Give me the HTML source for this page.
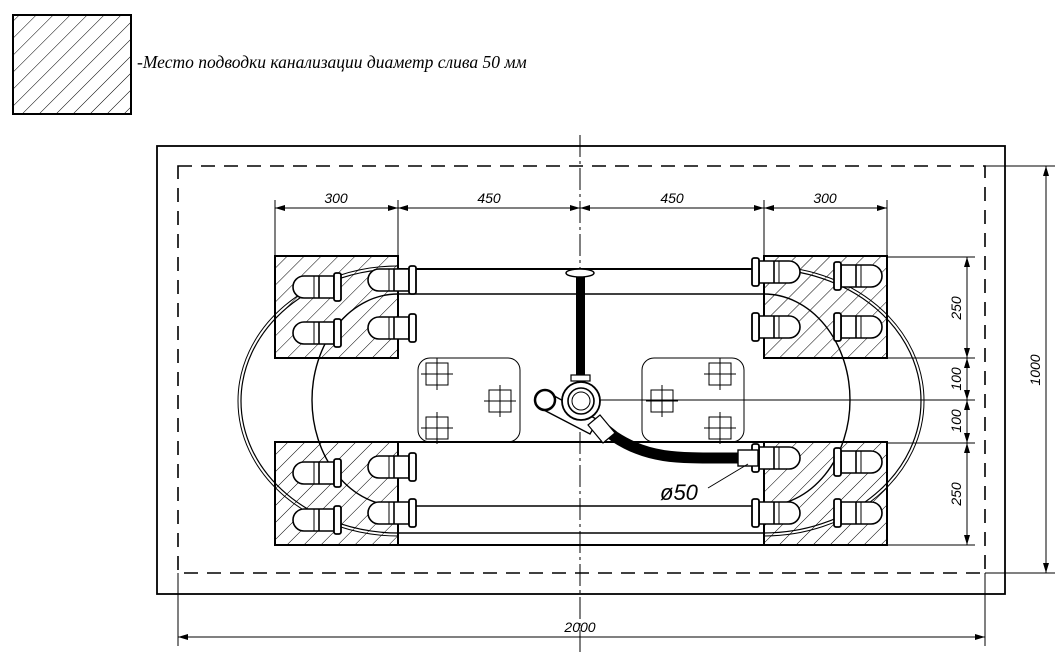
<!DOCTYPE html>
<html><head><meta charset="utf-8"><style>
html,body{margin:0;padding:0;background:#fff;}
svg{display:block;}
text{font-family:"Liberation Sans",sans-serif;font-style:italic;fill:#000;}
</style></head><body>
<svg width="1060" height="656" viewBox="0 0 1060 656" xmlns="http://www.w3.org/2000/svg">
<defs>
<pattern id="h" patternUnits="userSpaceOnUse" width="12" height="12" patternTransform="rotate(45)">
<line x1="0" y1="0" x2="0" y2="12" stroke="#000" stroke-width="1"/>
</pattern>
<marker id="a" viewBox="0 0 10 6" refX="10" refY="3" markerWidth="10" markerHeight="6" orient="auto-start-reverse" markerUnits="userSpaceOnUse">
<path d="M0,0 L10,3 L0,6 Z" fill="#000"/>
</marker>
<g id="pin" fill="#fff" stroke="#000">
<path d="M0,-11 A11,11 0 0 0 0,11 H30 V-11 Z" stroke-width="1.6"/>
<line x1="10" y1="-11" x2="10" y2="11"/>
<line x1="15" y1="-11" x2="15" y2="11" stroke-width="1.6"/>
<rect x="30" y="-14" width="7" height="28" rx="2" stroke-width="1.8"/>
</g>
<g id="cr" fill="none" stroke="#000" stroke-width="1">
<rect x="-11" y="-11" width="22" height="22"/>
<line x1="-16" y1="0" x2="16" y2="0"/><line x1="0" y1="-16" x2="0" y2="16"/>
</g>
</defs>

<rect x="13" y="15" width="118" height="99" fill="url(#h)" stroke="#000" stroke-width="2"/>
<text x="137" y="68" font-size="17.5" style="font-family:'Liberation Serif',serif">-Место подводки канализации диаметр слива 50 мм</text>

<rect x="157" y="146" width="848" height="448" fill="none" stroke="#000" stroke-width="1.8"/>
<rect x="178" y="166" width="807" height="407" fill="none" stroke="#000" stroke-width="1.6" stroke-dasharray="14,9"/>

<g fill="url(#h)" stroke="#000" stroke-width="2">
<rect x="275" y="256" width="123" height="102"/>
<rect x="275" y="442" width="123" height="103"/>
<rect x="764" y="256" width="123" height="102"/>
<rect x="764" y="442" width="123" height="103"/>
</g>

<g fill="none" stroke="#000">
<path d="M398,269 H764 M398,442 H764 M398,545 H764" stroke-width="2"/>
<path d="M398,294 H764 M398,506 H764 M398,533 H764" stroke-width="1.4"/>
<path d="M398,269 A157,132 0 0 0 398,533" stroke-width="1.2"/>
<path d="M398,266 A160,135 0 0 0 398,536" stroke-width="1"/>
<path d="M764,269 A157,132 0 0 1 764,533" stroke-width="1.2"/>
<path d="M764,266 A160,135 0 0 1 764,536" stroke-width="1"/>
<path d="M398,294 A86,106 0 0 0 398,506" stroke-width="1.4"/>
<path d="M764,294 A86,106 0 0 1 764,506" stroke-width="1.4"/>
<rect x="418" y="358" width="102" height="84" rx="12" stroke-width="1"/>
<rect x="642" y="358" width="102" height="84" rx="12" stroke-width="1"/>
</g>
<use href="#cr" x="437" y="374"/><use href="#cr" x="437" y="428"/><use href="#cr" x="500" y="401"/>
<use href="#cr" x="662" y="401"/><use href="#cr" x="720" y="374"/><use href="#cr" x="720" y="428"/>

<use href="#pin" transform="translate(304,287)"/><use href="#pin" transform="translate(304,333)"/>
<use href="#pin" transform="translate(304,473)"/><use href="#pin" transform="translate(304,520)"/>
<use href="#pin" transform="translate(379,280)"/><use href="#pin" transform="translate(379,328)"/>
<use href="#pin" transform="translate(379,467)"/><use href="#pin" transform="translate(379,513)"/>
<use href="#pin" transform="translate(789,272) scale(-1,1)"/><use href="#pin" transform="translate(789,327) scale(-1,1)"/>
<use href="#pin" transform="translate(789,458) scale(-1,1)"/><use href="#pin" transform="translate(789,513) scale(-1,1)"/>
<use href="#pin" transform="translate(871,276) scale(-1,1)"/><use href="#pin" transform="translate(871,327) scale(-1,1)"/>
<use href="#pin" transform="translate(871,462) scale(-1,1)"/><use href="#pin" transform="translate(871,513) scale(-1,1)"/>

<line x1="580" y1="135" x2="580" y2="652" stroke="#000" stroke-width="1" stroke-dasharray="22,4,3,4"/>
<line x1="545" y1="400" x2="887" y2="400" stroke="#000" stroke-width="1"/>

<path d="M600,425 L615,437 C650,460 680,458 740,458" fill="none" stroke="#000" stroke-width="11"/>
<rect x="738" y="450" width="20" height="16" fill="#fff" stroke="#000" stroke-width="1.4"/>
<path d="M547,392 L598,420 L590,434 L540,408 Z" fill="#fff" stroke="#000" stroke-width="1.4"/>
<circle cx="545" cy="400" r="10" fill="#fff" stroke="#000" stroke-width="2.5"/>
<rect x="576" y="273" width="9" height="102" fill="#000"/>
<ellipse cx="580" cy="273" rx="14" ry="4" fill="#fff" stroke="#000" stroke-width="1.5"/>
<rect x="571" y="375" width="19" height="6" fill="#fff" stroke="#000" stroke-width="1.2"/>
<circle cx="581" cy="401" r="19" fill="#fff" stroke="#000" stroke-width="1.8"/>
<circle cx="581" cy="401" r="13" fill="none" stroke="#000" stroke-width="1.6"/>
<circle cx="581" cy="401" r="9" fill="none" stroke="#000" stroke-width="1"/>
<path d="M588,425 L600,415 L615,433 L603,443 Z" fill="#fff" stroke="#000" stroke-width="1.2"/>
<line x1="708" y1="488" x2="748" y2="464" stroke="#000" stroke-width="1"/>
<text x="660" y="500" font-size="22">ø50</text>

<g stroke="#000" stroke-width="1" fill="none">
<line x1="275" y1="200" x2="275" y2="256"/><line x1="398" y1="200" x2="398" y2="256"/>
<line x1="764" y1="200" x2="764" y2="256"/><line x1="887" y1="200" x2="887" y2="256"/>
<line x1="275" y1="208" x2="398" y2="208" marker-start="url(#a)" marker-end="url(#a)"/>
<line x1="398" y1="208" x2="580" y2="208" marker-start="url(#a)" marker-end="url(#a)"/>
<line x1="580" y1="208" x2="764" y2="208" marker-start="url(#a)" marker-end="url(#a)"/>
<line x1="764" y1="208" x2="887" y2="208" marker-start="url(#a)" marker-end="url(#a)"/>
<line x1="887" y1="257" x2="975" y2="257"/><line x1="887" y1="358" x2="975" y2="358"/>
<line x1="887" y1="400" x2="975" y2="400"/><line x1="887" y1="443" x2="975" y2="443"/>
<line x1="887" y1="545" x2="975" y2="545"/>
<line x1="967" y1="257" x2="967" y2="358" marker-start="url(#a)" marker-end="url(#a)"/>
<line x1="967" y1="358" x2="967" y2="400" marker-start="url(#a)" marker-end="url(#a)"/>
<line x1="967" y1="400" x2="967" y2="443" marker-start="url(#a)" marker-end="url(#a)"/>
<line x1="967" y1="443" x2="967" y2="545" marker-start="url(#a)" marker-end="url(#a)"/>
<line x1="985" y1="166" x2="1055" y2="166"/><line x1="985" y1="573" x2="1055" y2="573"/>
<line x1="1046" y1="166" x2="1046" y2="573" marker-start="url(#a)" marker-end="url(#a)"/>
<line x1="178" y1="573" x2="178" y2="646"/><line x1="985" y1="573" x2="985" y2="646"/>
<line x1="178" y1="637" x2="985" y2="637" marker-start="url(#a)" marker-end="url(#a)"/>
</g>
<g font-size="14">
<text x="336" y="203" text-anchor="middle">300</text>
<text x="489" y="203" text-anchor="middle">450</text>
<text x="672" y="203" text-anchor="middle">450</text>
<text x="825" y="203" text-anchor="middle">300</text>
<text x="580" y="632" text-anchor="middle">2000</text>
<text transform="translate(961,308) rotate(-90)" text-anchor="middle">250</text>
<text transform="translate(961,379) rotate(-90)" text-anchor="middle">100</text>
<text transform="translate(961,421) rotate(-90)" text-anchor="middle">100</text>
<text transform="translate(961,494) rotate(-90)" text-anchor="middle">250</text>
<text transform="translate(1040,370) rotate(-90)" text-anchor="middle">1000</text>
</g>
</svg>
</body></html>
